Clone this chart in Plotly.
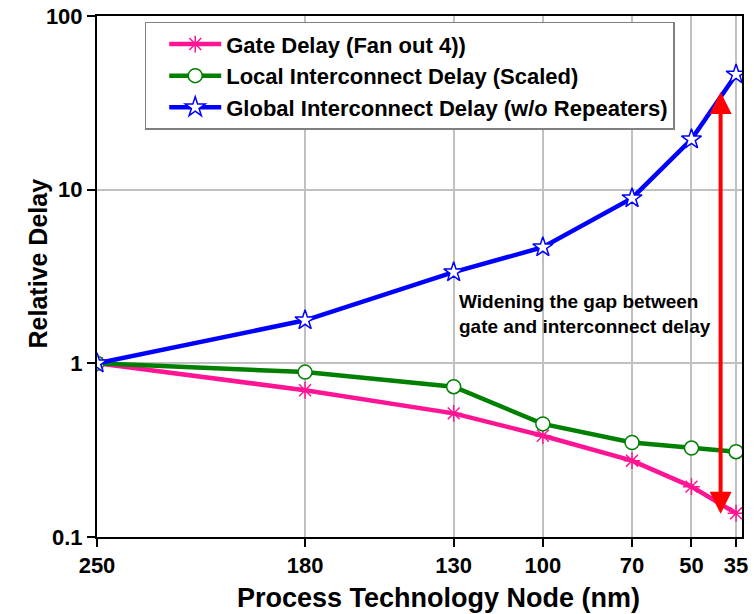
import plotly.graph_objects as go
import math

nodes = [250, 180, 130, 100, 70, 50, 35]
node_labels = ["250", "180", "130", "100", "70", "50", "35"]
gate_delay = [1.0, 0.70, 0.515, 0.383, 0.275, 0.195, 0.137]
local_delay = [1.0, 0.89, 0.734, 0.448, 0.35, 0.325, 0.31]
global_delay = [1.0, 1.77, 3.35, 4.66, 8.93, 19.5, 46.1]
y_ticks = [0.1, 1, 10, 100]
y_tick_labels = ["0.1", "1", "10", "100"]

FONT = "Liberation Sans, Arial, sans-serif"

fig = go.Figure()
fig.add_trace(go.Scatter(
    x=nodes, y=gate_delay, mode="lines+markers", name="Gate Delay (Fan out 4))",
    line=dict(color="#ff1493", width=4.5),
    marker=dict(symbol="asterisk-open", size=14, color="#ff1493", line=dict(color="#ff1493", width=1.5)),
))
fig.add_trace(go.Scatter(
    x=nodes, y=local_delay, mode="lines+markers", name="Local Interconnect Delay (Scaled)",
    line=dict(color="#008000", width=4.5),
    marker=dict(symbol="circle", size=14, color="white", line=dict(color="#008000", width=1.5)),
))
fig.add_trace(go.Scatter(
    x=nodes, y=global_delay, mode="lines+markers", name="Global Interconnect Delay (w/o Repeaters)",
    line=dict(color="#0000ff", width=4.5),
    marker=dict(symbol="star", size=15, color="white", line=dict(color="#0000ff", width=1.5)),
))

# double-headed arrow
fig.add_annotation(
    x=40.2, y=math.log10(0.136), ax=40.2, ay=math.log10(37.3),
    xref="x", yref="y", axref="x", ayref="y",
    text="", showarrow=True, arrowhead=2, startarrowhead=2, arrowside="end+start",
    arrowsize=1.1, startarrowsize=1.1, arrowwidth=4, arrowcolor="#ff0000",
)
fig.add_annotation(
    x=129, y=0.286, xref="x", yref="y", xanchor="left", yanchor="middle",
    text="Widening the gap between<br>gate and interconnect delay",
    showarrow=False, align="left",
    font=dict(family=FONT, size=19, color="black", weight="bold"),
)
# axis titles
fig.add_annotation(
    x=0.529, y=-0.117, xref="paper", yref="paper", xanchor="center", yanchor="middle",
    text="Process Technology Node (nm)", showarrow=False,
    font=dict(family=FONT, size=27, color="black", weight="bold"),
)
fig.add_annotation(
    x=-0.0915, y=0.525, xref="paper", yref="paper", xanchor="center", yanchor="middle",
    text="Relative Delay", showarrow=False, textangle=-90,
    font=dict(family=FONT, size=25, color="black", weight="bold"),
)

fig.update_layout(
    width=754, height=614,
    margin=dict(l=97, r=12, t=16, b=77),
    paper_bgcolor="white", plot_bgcolor="white",
    font=dict(family=FONT, color="black"),
    showlegend=True,
    legend=dict(
        x=0.074, y=0.989, xanchor="left", yanchor="top",
        bgcolor="white", bordercolor="#808080", borderwidth=1.5,
        font=dict(family=FONT, size=22, color="black", weight="bold"),
        tracegroupgap=0, itemwidth=52, indentation=18,
    ),
)
fig.update_xaxes(
    range=[250, 33], tickvals=nodes, ticktext=node_labels, automargin=False,
    showgrid=True, gridcolor="#c0c0c0", gridwidth=1.5,
    showline=True, linecolor="black", linewidth=2, mirror=True,
    ticks="outside", ticklen=8, tickwidth=2, tickcolor="black",
    tickfont=dict(family=FONT, size=22, weight="bold"),
    ticklabeloverflow="allow",
    zeroline=False,
)
fig.update_yaxes(
    type="log", range=[-1, 2], tickvals=y_ticks, ticktext=y_tick_labels, automargin=False,
    showgrid=True, gridcolor="#c0c0c0", gridwidth=1.5,
    showline=True, linecolor="black", linewidth=2, mirror=True,
    ticks="outside", ticklen=8, tickwidth=2, tickcolor="black",
    tickfont=dict(family=FONT, size=22, weight="bold"),
    ticklabeloverflow="allow",
    zeroline=False,
)

fig.write_html("out.html", config={"displayModeBar": False},
               post_script="document.body.style.margin='0px';")
